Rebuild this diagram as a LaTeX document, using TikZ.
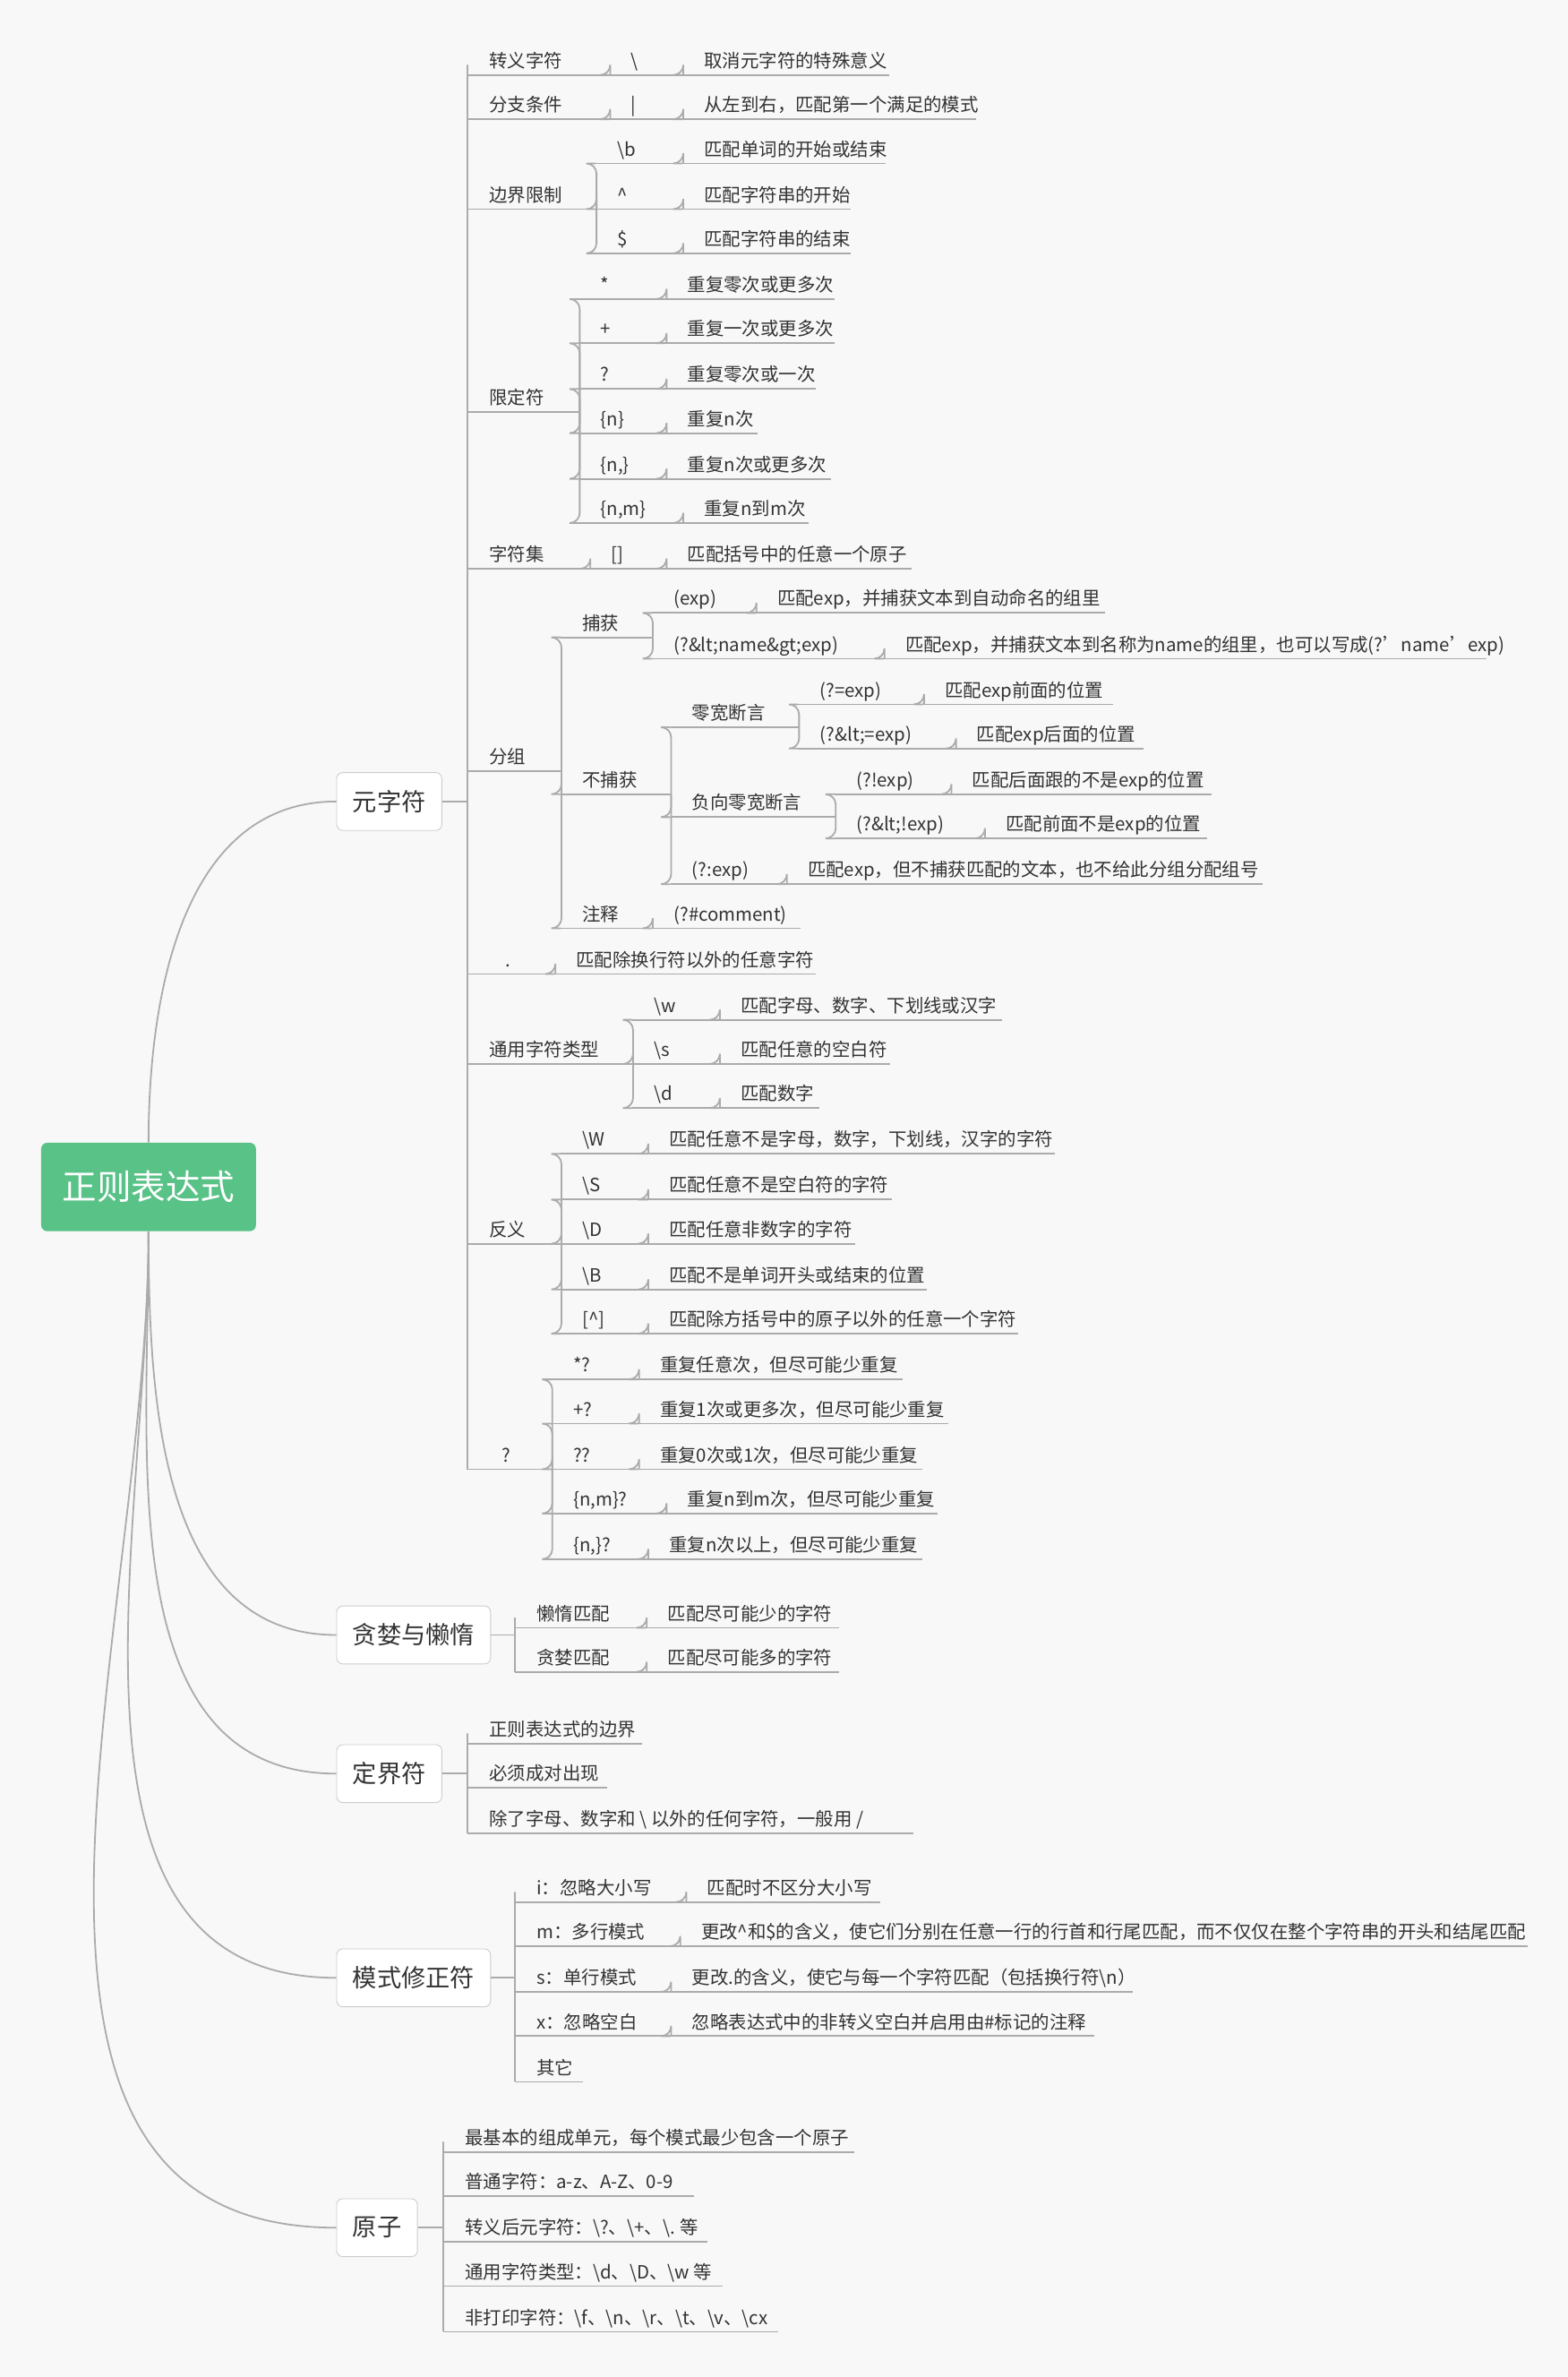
\documentclass[tikz,border=0pt]{standalone}
\usepackage{fontspec}
\setmainfont{Noto Sans CJK SC}
\definecolor{bg}{HTML}{F8F8F8}
\definecolor{ln}{HTML}{ABABAB}
\definecolor{tx}{HTML}{333333}
\definecolor{gr}{HTML}{58C287}
\newcommand\bs{\textbackslash}
\tikzset{
  lf/.style={anchor=west,inner xsep=0pt,inner ysep=0pt,text height=10pt,text depth=3.5pt,font=\fontsize{9}{10}\selectfont,text=tx},
  lnk/.style={draw=ln,line width=0.8pt,rounded corners=5pt},
  ul/.style={draw=ln,line width=0.8pt},
  box/.style={draw=ln!60,fill=white,rounded corners=3pt,font=\fontsize{12}{14}\selectfont,text=tx,inner sep=0pt},
  crv/.style={draw=ln,line width=0.8pt}
}
\newcommand\N[5]{%
  \pgfmathsetlengthmacro\nw{(#3-#2)*0.75pt}%
  \node[lf] (#1) at (#2,#4) {\makebox[\nw][l]{\hspace*{10.5pt}#5}};
  \draw[ul] (#1.south west) -- (#1.south east);}
\newcommand\C[2]{\draw[lnk] (#1.south east) |- (#2.south west);}
\newcommand\K[2]{\draw[lnk] (#1) |- (#2.south west);}
\begin{document}
\begin{tikzpicture}[x=0.75pt,y=-0.75pt]
\fill[bg] (0,0) rectangle (1029,1560);
\useasboundingbox (0,0) rectangle (1029,1560);
% root and level 1
\node[fill=gr,rounded corners=3pt,minimum width=141*0.75pt,minimum height=58*0.75pt,text=white,font=\fontsize{17}{20}\selectfont] (root) at (97.5,779) {正则表达式};
\node[box,minimum width=69*0.75pt,minimum height=38*0.75pt] (yzf) at (255.5,526) {元字符};
\node[box,minimum width=101*0.75pt,minimum height=38*0.75pt] (tl) at (271.5,1073) {贪婪与懒惰};
\node[box,minimum width=69*0.75pt,minimum height=38*0.75pt] (djf) at (255.5,1164) {定界符};
\node[box,minimum width=101*0.75pt,minimum height=38*0.75pt] (xzf) at (271.5,1298) {模式修正符};
\node[box,minimum width=53*0.75pt,minimum height=38*0.75pt] (yz) at (247.5,1462) {原子};
\draw[crv] (root.north) to[out=90,in=180] (yzf.west);
\draw[crv] (root.south) to[out=-90,in=180] (tl.west);
\draw[crv] (root.south) to[out=-90,in=180] (djf.west);
\draw[crv] (root.south) to[out=-90,in=180] (xzf.west);
\draw[crv] (root.south) to[out=-90,in=180] (yz.west);
\coordinate (m0) at (307,526);
\coordinate (m1) at (338,1073);
\coordinate (m2) at (307,1164);
\coordinate (m3) at (338,1298);
\coordinate (m4) at (291,1462);
\draw[ul] (yzf.east) -- (m0);
\draw[ul] (tl.east) -- (m1);
\draw[ul] (djf.east) -- (m2);
\draw[ul] (xzf.east) -- (m3);
\draw[ul] (yz.east) -- (m4);
% 元字符 children
\N{a1}{307}{400}{40}{转义字符}
\N{a1a}{400}{448}{40}{\bs}
\N{a1b}{448}{583}{40}{取消元字符的特殊意义}
\N{a2}{307}{400}{69}{分支条件}
\N{a2a}{400}{448}{69}{|}
\N{a2b}{448}{640}{69}{从左到右，匹配第一个满足的模式}
\N{a3}{307}{391}{128}{边界限制}
\N{a3a}{391}{448}{98}{\bs b}
\N{a3aa}{448}{581}{98}{匹配单词的开始或结束}
\N{a3b}{391}{448}{128}{\textasciicircum}
\N{a3bb}{448}{558}{128}{匹配字符串的开始}
\N{a3c}{391}{448}{157}{\$}
\N{a3cc}{448}{558}{157}{匹配字符串的结束}
\N{a4}{307}{380}{261}{限定符}
\N{a4a}{380}{437}{187}{*}
\N{a4aa}{437}{547}{187}{重复零次或更多次}
\N{a4b}{380}{437}{216}{+}
\N{a4bb}{437}{547}{216}{重复一次或更多次}
\N{a4c}{380}{437}{246}{?}
\N{a4cc}{437}{535}{246}{重复零次或一次}
\N{a4d}{380}{437}{275}{\{n\}}
\N{a4dd}{437}{497}{275}{重复n次}
\N{a4e}{380}{437}{305}{\{n,\}}
\N{a4ee}{437}{545}{305}{重复n次或更多次}
\N{a4f}{380}{448}{334}{\{n,m\}}
\N{a4ff}{448}{530}{334}{重复n到m次}
\N{a5}{307}{387}{364}{字符集}
\N{a5a}{387}{437}{364}{[]}
\N{a5aa}{437}{598}{364}{匹配括号中的任意一个原子}
\N{a6}{307}{368}{497}{分组}
\N{b1}{368}{428}{409}{捕获}
\N{b1a}{428}{496}{393}{(exp)}
\N{b1aa}{496}{725}{393}{匹配exp，并捕获文本到自动命名的组里}
\N{b1b}{428}{580}{423}{(?\&lt;name\&gt;exp)}
\N{b1bb}{580}{975}{423}{匹配exp，并捕获文本到名称为name的组里，也可以写成(?'name'exp)}
\N{b2}{368}{440}{512}{不捕获}
\N{c1}{440}{524}{468}{零宽断言}
\N{c1a}{524}{606}{453}{(?=exp)}
\N{c1aa}{606}{730}{453}{匹配exp前面的位置}
\N{c1b}{524}{627}{482}{(?\&lt;=exp)}
\N{c1bb}{627}{750}{482}{匹配exp后面的位置}
\N{c2}{440}{548}{527}{负向零宽断言}
\N{c2a}{548}{624}{512}{(?!exp)}
\N{c2aa}{624}{795}{512}{匹配后面跟的不是exp的位置}
\N{c2b}{548}{646}{541}{(?\&lt;!exp)}
\N{c2bb}{646}{792}{541}{匹配前面不是exp的位置}
\N{c3}{440}{516}{571}{(?:exp)}
\N{c3a}{516}{828}{571}{匹配exp，但不捕获匹配的文本，也不给此分组分配组号}
\N{b3}{368}{428}{600}{注释}
\N{b3a}{428}{525}{600}{(?\#comment)}
\N{a7}{307}{364}{630}{\hspace*{8pt}.}
\N{a7a}{364}{535}{630}{匹配除换行符以外的任意字符}
\N{a8}{307}{415}{689}{通用字符类型}
\N{a8a}{415}{472}{660}{\bs w}
\N{a8aa}{472}{657}{660}{匹配字母、数字、下划线或汉字}
\N{a8b}{415}{472}{689}{\bs s}
\N{a8bb}{472}{584}{689}{匹配任意的空白符}
\N{a8c}{415}{472}{718}{\bs d}
\N{a8cc}{472}{537}{718}{匹配数字}
\N{a9}{307}{368}{807}{反义}
\N{a9a}{368}{425}{748}{\bs W}
\N{a9aa}{425}{692}{748}{匹配任意不是字母，数字，下划线，汉字的字符}
\N{a9b}{368}{425}{778}{\bs S}
\N{a9bb}{425}{585}{778}{匹配任意不是空白符的字符}
\N{a9c}{368}{425}{807}{\bs D}
\N{a9cc}{425}{561}{807}{匹配任意非数字的字符}
\N{a9d}{368}{425}{837}{\bs B}
\N{a9dd}{425}{608}{837}{匹配不是单词开头或结束的位置}
\N{a9e}{368}{425}{866}{[\textasciicircum]}
\N{a9ee}{425}{668}{866}{匹配除方括号中的原子以外的任意一个字符}
\N{a10}{307}{362}{955}{\hspace*{6pt}?}
\N{d1}{362}{419}{896}{*?}
\N{d1a}{419}{592}{896}{重复任意次，但尽可能少重复}
\N{d2}{362}{419}{925}{+?}
\N{d2a}{419}{622}{925}{重复1次或更多次，但尽可能少重复}
\N{d3}{362}{419}{955}{??}
\N{d3a}{419}{605}{955}{重复0次或1次，但尽可能少重复}
\N{d4}{362}{437}{984}{\{n,m\}?}
\N{d4a}{437}{615}{984}{重复n到m次，但尽可能少重复}
\N{d5}{362}{425}{1014}{\{n,\}?}
\N{d5a}{425}{605}{1014}{重复n次以上，但尽可能少重复}
\foreach \c in {a1,a2,a3,a4,a5,a6,a7,a8,a9,a10} {\K{m0}{\c}}
\C{a1}{a1a}\C{a1a}{a1b}\C{a2}{a2a}\C{a2a}{a2b}
\C{a3}{a3a}\C{a3}{a3b}\C{a3}{a3c}
\C{a3a}{a3aa}\C{a3b}{a3bb}\C{a3c}{a3cc}
\C{a4}{a4a}\C{a4}{a4b}\C{a4}{a4c}\C{a4}{a4d}\C{a4}{a4e}\C{a4}{a4f}
\C{a4a}{a4aa}\C{a4b}{a4bb}\C{a4c}{a4cc}\C{a4d}{a4dd}\C{a4e}{a4ee}\C{a4f}{a4ff}
\C{a5}{a5a}\C{a5a}{a5aa}
\C{a6}{b1}\C{a6}{b2}\C{a6}{b3}
\C{b1}{b1a}\C{b1}{b1b}\C{b1a}{b1aa}\C{b1b}{b1bb}
\C{b2}{c1}\C{b2}{c2}\C{b2}{c3}
\C{c1}{c1a}\C{c1}{c1b}\C{c1a}{c1aa}\C{c1b}{c1bb}
\C{c2}{c2a}\C{c2}{c2b}\C{c2a}{c2aa}\C{c2b}{c2bb}
\C{c3}{c3a}\C{b3}{b3a}\C{a7}{a7a}
\C{a8}{a8a}\C{a8}{a8b}\C{a8}{a8c}\C{a8a}{a8aa}\C{a8b}{a8bb}\C{a8c}{a8cc}
\C{a9}{a9a}\C{a9}{a9b}\C{a9}{a9c}\C{a9}{a9d}\C{a9}{a9e}
\C{a9a}{a9aa}\C{a9b}{a9bb}\C{a9c}{a9cc}\C{a9d}{a9dd}\C{a9e}{a9ee}
\C{a10}{d1}\C{a10}{d2}\C{a10}{d3}\C{a10}{d4}\C{a10}{d5}
\C{d1}{d1a}\C{d2}{d2a}\C{d3}{d3a}\C{d4}{d4a}\C{d5}{d5a}
% 贪婪与懒惰
\N{e1}{338}{424}{1059}{懒惰匹配}
\N{e1a}{424}{550}{1059}{匹配尽可能少的字符}
\N{e2}{338}{424}{1088}{贪婪匹配}
\N{e2a}{424}{550}{1088}{匹配尽可能多的字符}
\K{m1}{e1}\K{m1}{e2}\C{e1}{e1a}\C{e2}{e2a}
% 定界符
\N{f1}{307}{421}{1135}{正则表达式的边界}
\N{f2}{307}{398}{1164}{必须成对出现}
\N{f3}{307}{599}{1194}{除了字母、数字和 \bs{} 以外的任何字符，一般用 /}
\K{m2}{f1}\K{m2}{f2}\K{m2}{f3}
% 模式修正符
\N{g1}{338}{450}{1239}{i：忽略大小写}
\N{g1a}{450}{577}{1239}{匹配时不区分大小写}
\N{g2}{338}{446}{1268}{m：多行模式}
\N{g2a}{446}{1002}{1268}{更改\textasciicircum 和\$的含义，使它们分别在任意一行的行首和行尾匹配，而不仅仅在整个字符串的开头和结尾匹配}
\N{g3}{338}{440}{1298}{s：单行模式}
\N{g3a}{440}{743}{1298}{更改.的含义，使它与每一个字符匹配（包括换行符\bs n）}
\N{g4}{338}{440}{1327}{x：忽略空白}
\N{g4a}{440}{718}{1327}{忽略表达式中的非转义空白并启用由\#标记的注释}
\N{g5}{338}{382}{1357}{其它}
\foreach \c in {g1,g2,g3,g4,g5} {\K{m3}{\c}}
\C{g1}{g1a}\C{g2}{g2a}\C{g3}{g3a}\C{g4}{g4a}
% 原子
\N{h1}{291}{560}{1403}{最基本的组成单元，每个模式最少包含一个原子}
\N{h2}{291}{455}{1432}{普通字符：a-z、A-Z、0-9}
\N{h3}{291}{464}{1462}{转义后元字符：\bs?、\bs+、\bs. 等}
\N{h4}{291}{474}{1491}{通用字符类型：\bs d、\bs D、\bs w 等}
\N{h5}{291}{510}{1521}{非打印字符：\bs f、\bs n、\bs r、\bs t、\bs v、\bs cx}
\foreach \c in {h1,h2,h3,h4,h5} {\K{m4}{\c}}
\end{tikzpicture}
\end{document}
